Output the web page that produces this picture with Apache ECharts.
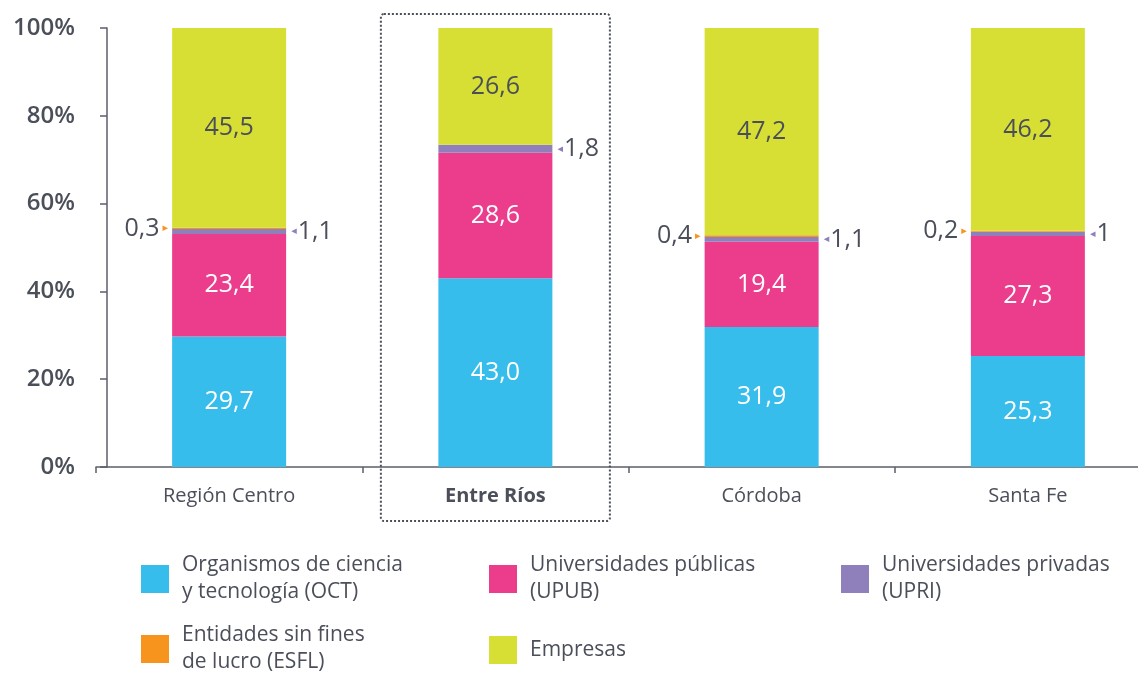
<!DOCTYPE html>
<html>
<head>
<meta charset="utf-8">
<script src="https://cdn.jsdelivr.net/npm/echarts@6/dist/echarts.min.js"></script>
<style>
  html, body { margin: 0; padding: 0; background: #ffffff; }
  #chart { width: 1138px; height: 674px; }
</style>
</head>
<body>
<div id="chart"></div>
<script>
// ---- data ----
const categories = ['Región Centro', 'Entre Ríos', 'Córdoba', 'Santa Fe'];
const highlighted = 'Entre Ríos';
const oct = [29.7, 43.0, 31.9, 25.3];
const upub = [23.4, 28.6, 19.4, 27.3];
const upri = [1.1, 1.8, 1.1, 1.0];
const esfl = [0.3, 0, 0.4, 0.2];
const empresas = [45.5, 26.6, 47.2, 46.2];
const yTicks = [0, 20, 40, 60, 80, 100];
const seriesNames = ['OCT', 'UPUB', 'UPRI', 'ESFL', 'Empresas'];
const legendTexts = {
  'OCT': 'Organismos de ciencia\ny tecnología (OCT)',
  'UPUB': 'Universidades públicas\n(UPUB)',
  'UPRI': 'Universidades privadas\n(UPRI)',
  'ESFL': 'Entidades sin fines\nde lucro (ESFL)',
  'Empresas': 'Empresas'
};

const TEXT = '#4b4f5a';
const FONT = 'Open Sans';
const colors = {
  OCT: '#36bdec',
  UPUB: '#ec3d8d',
  UPRI: '#8f80bc',
  ESFL: '#f7941d',
  Empresas: '#d7df34'
};

const comma = v => String(v).replace('.', ',');
const comma1 = v => v.toFixed(1).replace('.', ',');

const chart = echarts.init(document.getElementById('chart'));

function innerLabel(color) {
  return {
    show: true, position: 'inside', color: color,
    fontFamily: FONT, fontSize: 25,
    formatter: p => comma1(p.value)
  };
}

const legendPos = [
  { name: 'OCT', left: 136, top: 547 },
  { name: 'UPUB', left: 484, top: 547 },
  { name: 'UPRI', left: 836, top: 547 },
  { name: 'ESFL', left: 136, top: 617 },
  { name: 'Empresas', left: 484, top: 631 }
];

const option = {
  backgroundColor: '#ffffff',
  animation: false,
  grid: { left: 96, width: 1065, top: 28, bottom: 207, containLabel: false, outerBoundsMode: 'none' },
  xAxis: {
    type: 'category',
    data: categories,
    axisLine: { show: true, lineStyle: { color: '#5b5f69', width: 1.5 } },
    axisTick: { show: true, length: 6, lineStyle: { color: '#5b5f69', width: 1.5 } },
    axisLabel: {
      margin: 19,
      formatter: v => v === highlighted ? '{b|' + v + '}' : '{n|' + v + '}',
      rich: {
        n: { fontFamily: FONT, fontSize: 20, color: TEXT },
        b: { fontFamily: FONT, fontSize: 20, color: TEXT, fontWeight: 'bold' }
      }
    }
  },
  yAxis: {
    type: 'value',
    min: 0, max: 100, interval: 20,
    offset: -11,
    axisLine: { show: true, lineStyle: { color: '#5b5f69', width: 1.5 } },
    axisTick: { show: true, length: 7, lineStyle: { color: '#5b5f69', width: 1.5 } },
    splitLine: { show: false },
    axisLabel: {
      margin: 32,
      color: TEXT, fontFamily: FONT, fontSize: 24, fontWeight: 600,
      formatter: v => yTicks.includes(v) ? v + '%' : ''
    }
  },
  legend: legendPos.map(l => ({
    data: [l.name],
    left: l.left, top: l.top,
    orient: 'horizontal',
    itemWidth: 28, itemHeight: 28, itemGap: 0,
    icon: 'rect',
    selectedMode: false,
    formatter: n => legendTexts[n],
    textStyle: { fontFamily: FONT, fontSize: 21, color: TEXT, lineHeight: 27, padding: [0, 0, 0, 8] }
  })),
  series: [
    {
      name: 'OCT', type: 'bar', stack: 'total', barWidth: 114,
      data: oct, itemStyle: { color: colors.OCT },
      label: innerLabel('#ffffff')
    },
    {
      name: 'UPUB', type: 'bar', stack: 'total', barWidth: 114,
      data: upub, itemStyle: { color: colors.UPUB },
      label: innerLabel('#ffffff')
    },
    {
      name: 'UPRI', type: 'bar', stack: 'total', barWidth: 114,
      data: upri, itemStyle: { color: colors.UPRI },
      label: {
        show: true, position: 'right', distance: 5,
        formatter: p => '{t|◂}{v|' + comma(p.value) + '}',
        rich: {
          t: { fontFamily: 'DejaVu Sans', fontSize: 11, color: colors.UPRI, padding: [0, 1, 0, 0] },
          v: { fontFamily: FONT, fontSize: 25, color: TEXT }
        }
      }
    },
    {
      name: 'ESFL', type: 'bar', stack: 'total', barWidth: 114,
      data: esfl, itemStyle: { color: colors.ESFL },
      label: {
        show: true, position: 'left', distance: 4,
        formatter: p => p.value ? '{v|' + comma(p.value) + '}{t|▸}' : '',
        rich: {
          t: { fontFamily: 'DejaVu Sans', fontSize: 11, color: colors.ESFL, padding: [0, 0, 0, 3] },
          v: { fontFamily: FONT, fontSize: 25, color: TEXT }
        }
      }
    },
    {
      name: 'Empresas', type: 'bar', stack: 'total', barWidth: 114,
      data: empresas, itemStyle: { color: colors.Empresas },
      label: innerLabel(TEXT)
    }
  ]
};

chart.setOption(option);

// dotted frame around the highlighted category, positioned from the axis scales
const cx = chart.convertToPixel({ xAxisIndex: 0 }, highlighted);
const yTop = chart.convertToPixel({ yAxisIndex: 0 }, 100);
const yBot = chart.convertToPixel({ yAxisIndex: 0 }, 0);
const halfW = 114.5;
chart.setOption({
  graphic: [{
    type: 'rect',
    shape: { x: cx - halfW, y: yTop - 14, width: halfW * 2, height: (yBot - yTop) + 14 + 54, r: 3 },
    style: { fill: 'none', stroke: '#4b4f5a', lineWidth: 2, lineDash: [2, 2] },
    silent: true, z: 10
  }]
});
</script>
</body>
</html>
